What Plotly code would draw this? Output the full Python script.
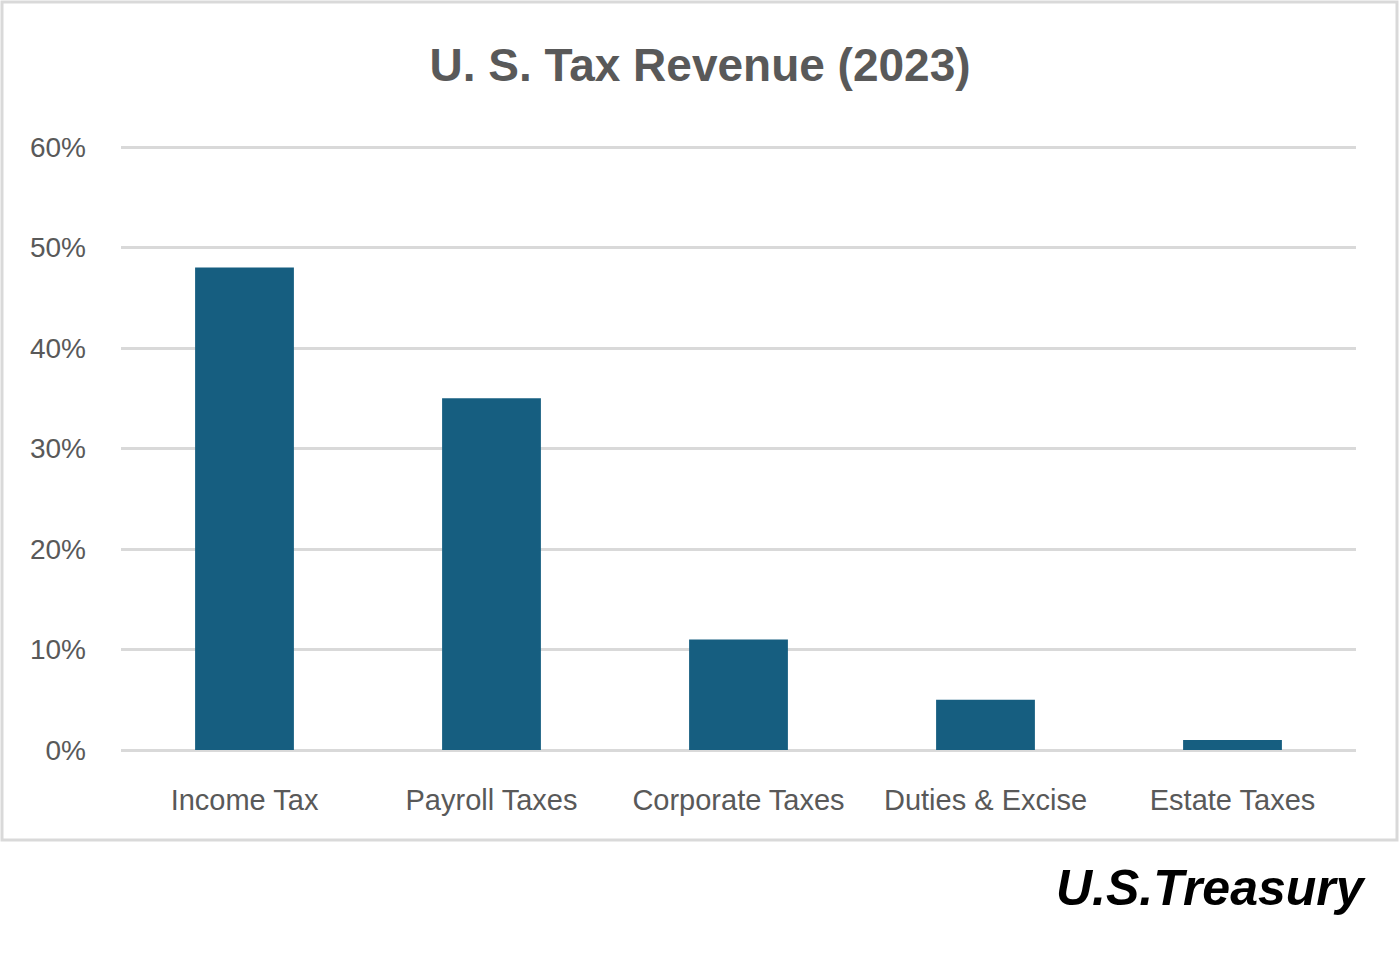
import plotly.graph_objects as go

# U.S. tax revenue by source, 2023 (share of total, %)
categories = ['Income Tax', 'Payroll Taxes', 'Corporate Taxes', 'Duties & Excise', 'Estate Taxes']
shares = [48, 35, 11, 5, 1]
tick_vals = [0, 10, 20, 30, 40, 50, 60]
tick_text = ['0%', '10%', '20%', '30%', '40%', '50%', '60%']

W, H = 1400, 954
y_top = 60.5
L, R, B = 121, 44, 204
ph = round(603 * y_top / 60)
T = H - B - ph
pw = W - L - R

def px_x(p):
    return (p - L) / pw

def px_y(p):
    return (H - B - p) / ph

fig = go.Figure()
fig.add_trace(go.Bar(x=categories, y=shares, marker_color='#165E80',
                     marker_line_width=0, hoverinfo='x+y'))

fig.update_layout(
    width=W, height=H,
    margin=dict(l=L, r=R, t=T, b=B),
    paper_bgcolor='white', plot_bgcolor='white',
    bargap=0.6,
    showlegend=False,
    font=dict(family='Liberation Sans', color='#595959'),
    title=dict(text='<b>U. S. Tax Revenue (2023)</b>', x=0.5, xref='container',
               y=1 - 65 / H, yanchor='middle', xanchor='center',
               font=dict(family='Liberation Sans Narrow, Liberation Sans', size=46, color='#595959')),
)
fig.update_xaxes(showgrid=False, showline=False, ticks='', tickfont=dict(size=29, color='#595959'),
                 ticklabelstandoff=30)
fig.update_yaxes(range=[0, y_top], tickvals=tick_vals, ticktext=tick_text,
                 showgrid=True, gridcolor='#d9d9d9', gridwidth=3,
                 zeroline=True, zerolinecolor='#d9d9d9', zerolinewidth=3,
                 showline=False, ticks='', tickfont=dict(size=28, color='#595959'),
                 ticklabelstandoff=34)

# outer chart border
fig.add_shape(type='rect', xref='paper', yref='paper',
              x0=px_x(2), x1=px_x(1397), y0=px_y(840), y1=px_y(2),
              line=dict(color='#d9d9d9', width=3), layer='below')

fig.add_annotation(text='<b><i>U.S.Treasury</i></b>', xref='paper', yref='paper',
                   x=px_x(1368), y=px_y(888), xanchor='right', yanchor='middle',
                   showarrow=False, font=dict(family='Liberation Sans', size=50, color='black'))

fig.write_html('out.html', config={'displayModeBar': False},
               post_script="document.body.style.margin='0';")
